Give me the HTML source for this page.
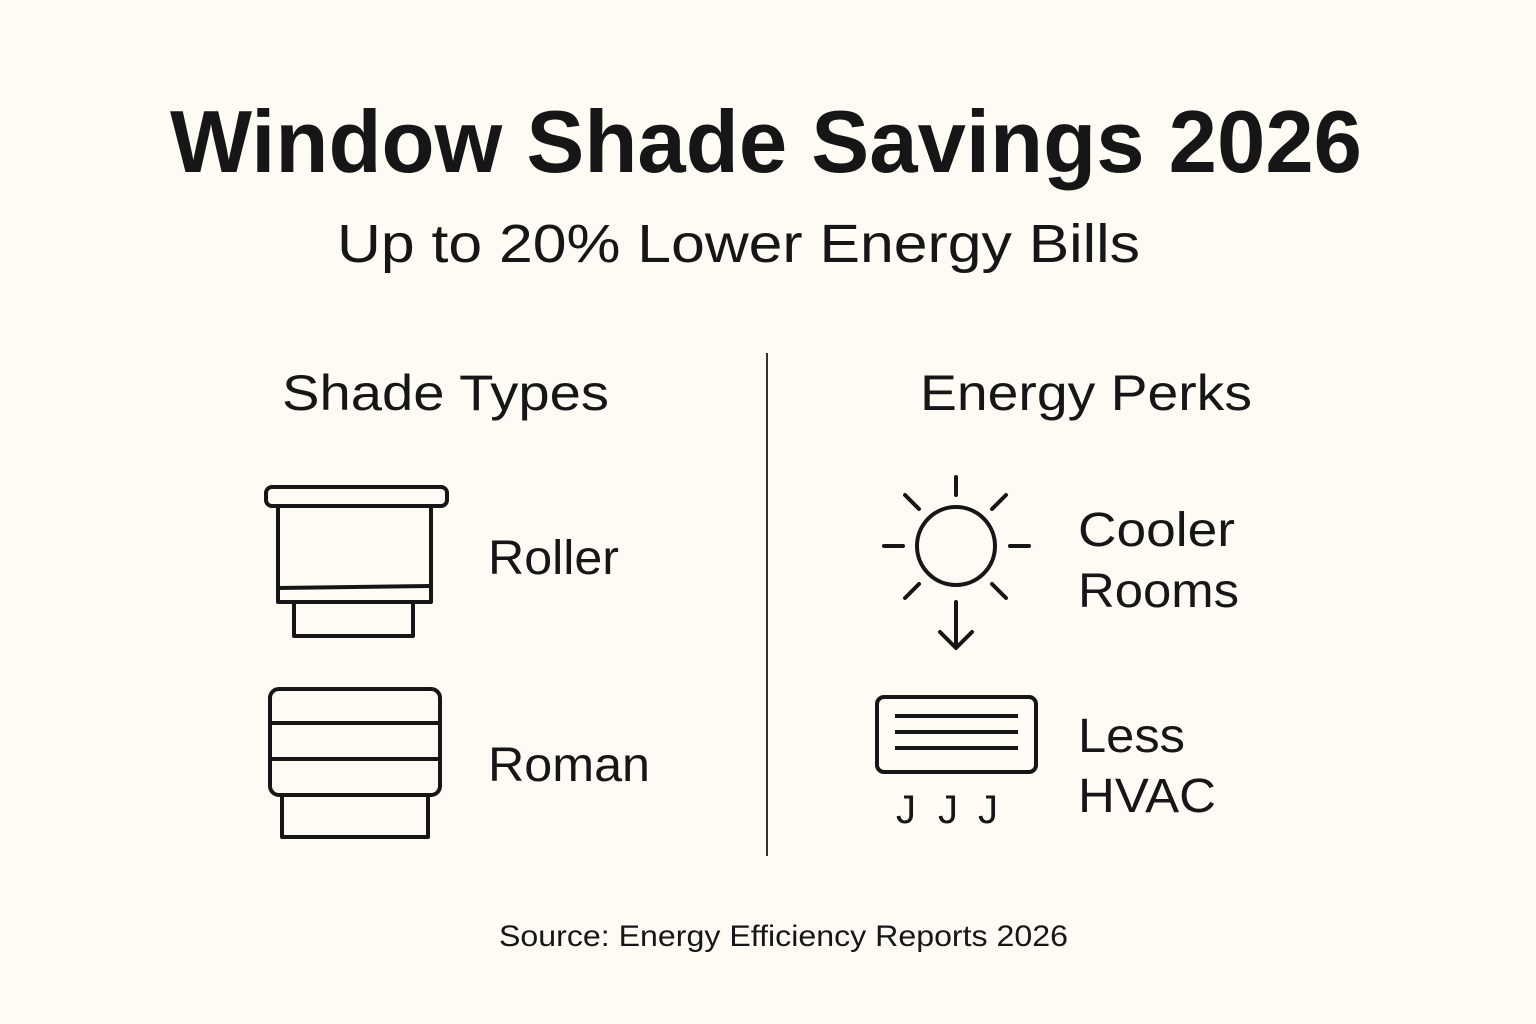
<!DOCTYPE html>
<html><head><meta charset="utf-8"><style>
html,body{margin:0;padding:0;background:#fdfbf4;}
svg{display:block}
text{font-family:"Liberation Sans","DejaVu Sans",sans-serif;fill:#161616;}
</style></head><body>
<svg width="1536" height="1024" viewBox="0 0 1536 1024" xmlns="http://www.w3.org/2000/svg">
<rect width="1536" height="1024" fill="#fdfbf4"/>
<text x="170" y="172" font-size="88" font-weight="bold" textLength="1192" lengthAdjust="spacingAndGlyphs">Window Shade Savings 2026</text>
<text x="337" y="262" font-size="54" textLength="803" lengthAdjust="spacingAndGlyphs">Up to 20% Lower Energy Bills</text>
<text x="282" y="410" font-size="50" textLength="327" lengthAdjust="spacingAndGlyphs">Shade Types</text>
<text x="920" y="410" font-size="50" textLength="332" lengthAdjust="spacingAndGlyphs">Energy Perks</text>
<line x1="767" y1="353" x2="767" y2="856" stroke="#333" stroke-width="2"/>
<g fill="none" stroke="#161616" stroke-width="4" stroke-linejoin="round">
<rect x="266" y="487" width="181" height="19" rx="6"/>
<rect x="278" y="506" width="153" height="96"/>
<line x1="278" y1="588" x2="431" y2="586"/>
<path d="M294 602 V636 H413 V602"/>
<rect x="270" y="689" width="170" height="106" rx="9"/>
<line x1="270" y1="723" x2="440" y2="723"/>
<line x1="270" y1="759" x2="440" y2="759"/>
<path d="M282 795 V837 H428 V795"/>
<circle cx="956" cy="546" r="39"/>
<g stroke-linecap="round">
<line x1="956" y1="477" x2="956" y2="495"/>
<line x1="884" y1="546" x2="903" y2="546"/>
<line x1="1010" y1="546" x2="1029" y2="546"/>
<line x1="905" y1="495" x2="919" y2="509"/>
<line x1="1006" y1="495" x2="992" y2="509"/>
<line x1="905" y1="598" x2="919" y2="584"/>
<line x1="1006" y1="598" x2="992" y2="584"/>
<line x1="956" y1="602" x2="956" y2="647"/>
<path d="M940 632 L956 648 L972 632"/>
</g>
<rect x="877" y="697" width="159" height="75" rx="7"/>
<line x1="895" y1="716" x2="1018" y2="716"/>
<line x1="895" y1="732" x2="1018" y2="732"/>
<line x1="895" y1="748" x2="1018" y2="748"/>
</g>
<text x="896" y="823" font-size="40">J</text>
<text x="938" y="823" font-size="40">J</text>
<text x="978" y="823" font-size="40">J</text>
<text x="488" y="574" font-size="48" textLength="131" lengthAdjust="spacingAndGlyphs">Roller</text>
<text x="488" y="781" font-size="48" textLength="162" lengthAdjust="spacingAndGlyphs">Roman</text>
<text x="1078" y="546" font-size="48" textLength="157" lengthAdjust="spacingAndGlyphs">Cooler</text>
<text x="1078" y="607" font-size="48" textLength="161" lengthAdjust="spacingAndGlyphs">Rooms</text>
<text x="1078" y="752" font-size="48" textLength="107" lengthAdjust="spacingAndGlyphs">Less</text>
<text x="1078" y="812" font-size="48" textLength="138" lengthAdjust="spacingAndGlyphs">HVAC</text>
<text x="499" y="946" font-size="30" textLength="569" lengthAdjust="spacingAndGlyphs">Source: Energy Efficiency Reports 2026</text>
</svg>
</body></html>
